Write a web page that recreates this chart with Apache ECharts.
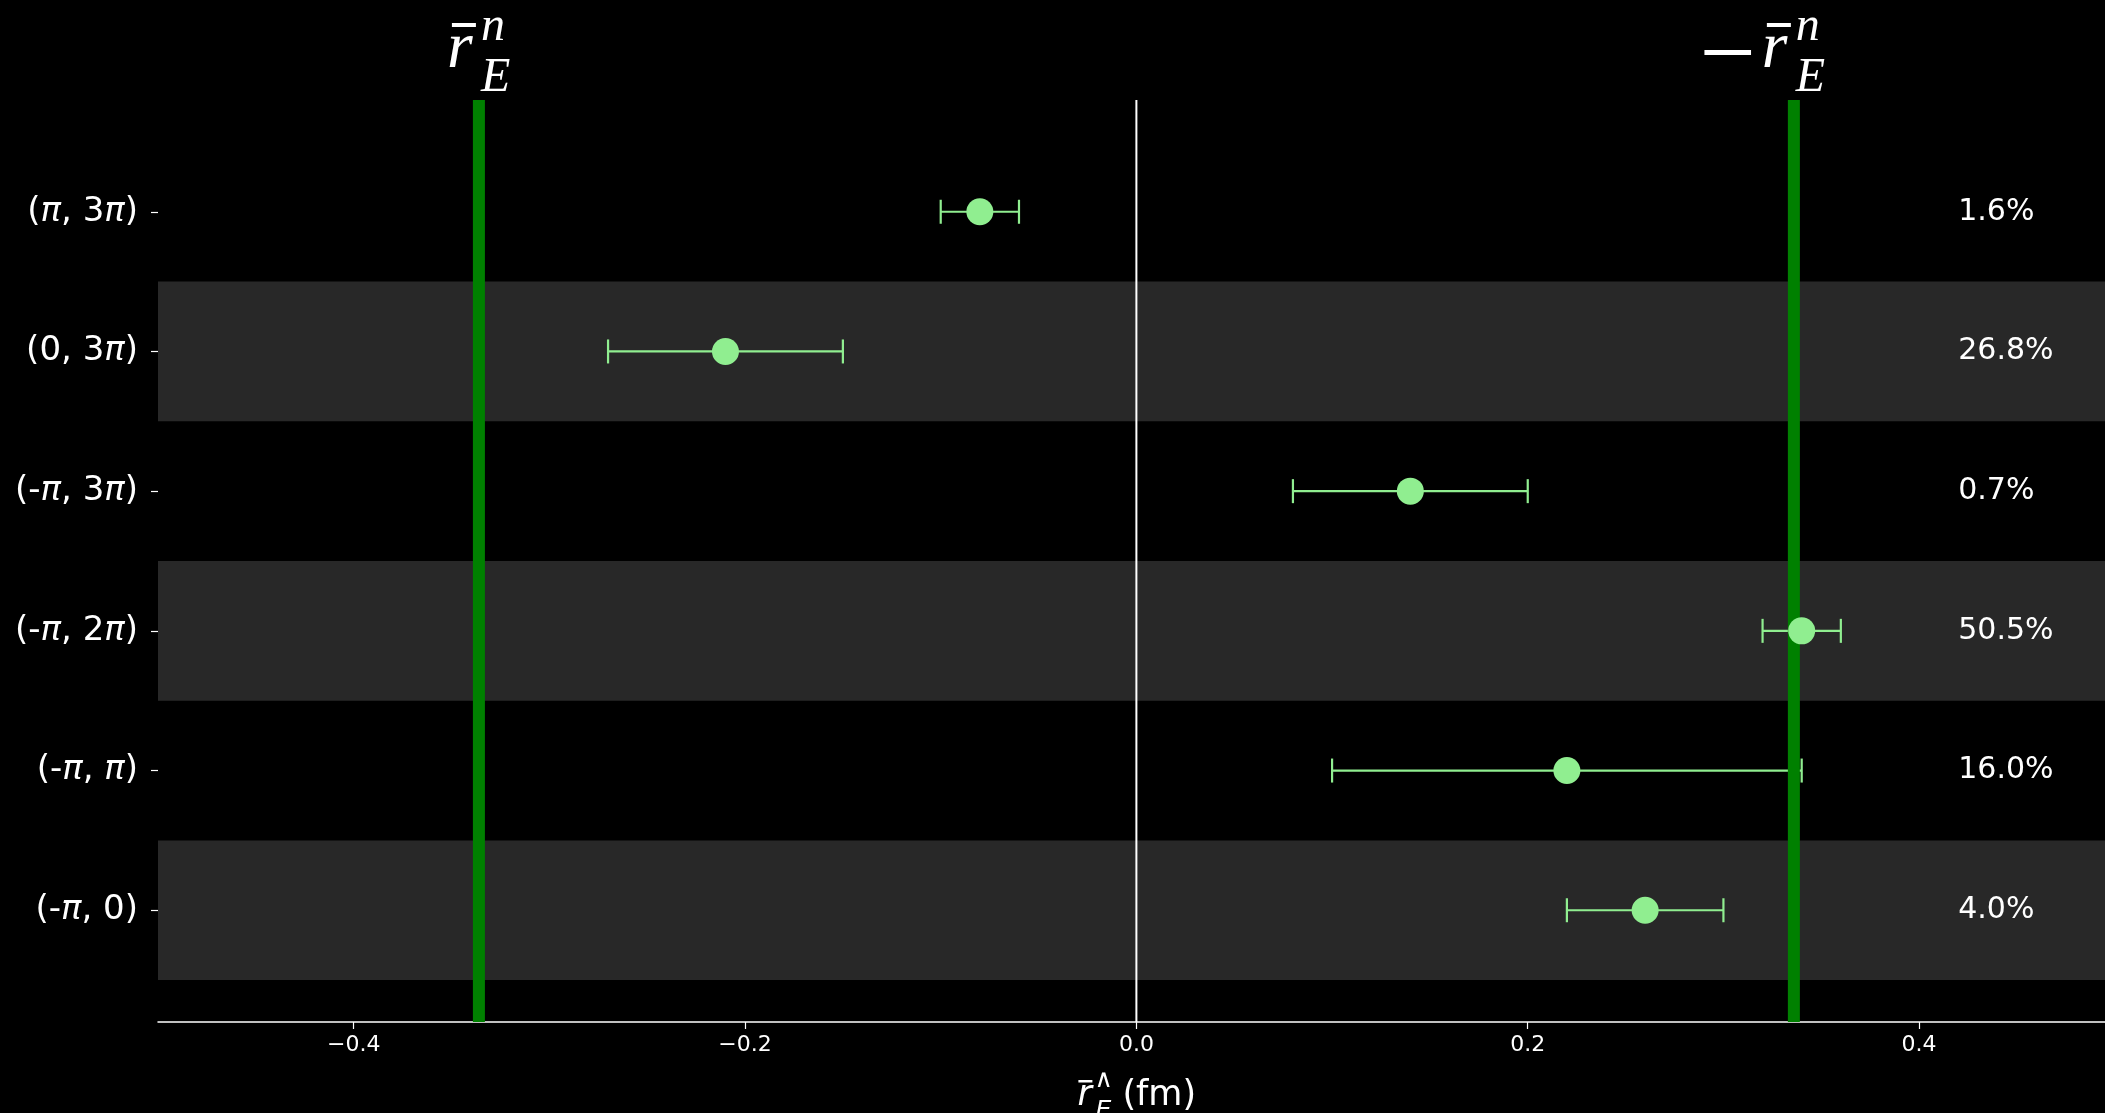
<!DOCTYPE html>
<html>
<head>
<meta charset="utf-8">
<script src="https://cdn.jsdelivr.net/npm/echarts@6/dist/echarts.min.js"></script>
<style>
html,body{margin:0;padding:0;background:#000;}
#chart{width:2105px;height:1113px;}
</style>
</head>
<body>
<div id="chart"></div>
<script>
// Categories listed bottom to top
const categories = ['(-π, 0)', '(-π, π)', '(-π, 2π)', '(-π, 3π)', '(0, 3π)', '(π, 3π)'];
const centers = [0.26, 0.22, 0.34, 0.14, -0.21, -0.08];
const lows    = [0.22, 0.10, 0.32, 0.08, -0.27, -0.10];
const highs   = [0.30, 0.34, 0.36, 0.20, -0.15, -0.06];
const shares  = ['4.0%', '16.0%', '50.5%', '0.7%', '26.8%', '1.6%'];
const refLines = [-0.336, 0.336];
const xTicks = [-0.4, -0.2, 0.0, 0.2, 0.4];
const xMin = -0.5, xMax = 0.495, yMin = -0.8, yMax = 5.8;
const shareX = 0.42;

const chart = echarts.init(document.getElementById('chart'));
const SANS = '"DejaVu Sans"';
const SERIF = '"Liberation Serif", "Times New Roman", Times, serif';
const K = 0.34; // canvas 'middle' offset factor
function mid(baseline, size) { return baseline - K * size; }

const bandIdx = categories.map((c, i) => i).filter(i => i % 2 === 0);

const option = {
  backgroundColor: '#000000',
  animation: false,
  grid: { left: 158, right: 0, top: 100, bottom: 91, containLabel: false },
  xAxis: {
    type: 'value', min: xMin, max: xMax,
    axisLine: { show: true, onZero: false, lineStyle: { color: '#ffffff', width: 1.5 } },
    axisTick: { show: true, length: 7, lineStyle: { color: '#ffffff', width: 1.2 }, customValues: xTicks },
    axisLabel: {
      color: '#ffffff', fontFamily: SANS, fontSize: 22, margin: 12,
      customValues: xTicks,
      formatter: v => (v < -1e-9 ? '\u2212' : '') + Math.abs(v).toFixed(1)
    },
    splitLine: { show: false }
  },
  yAxis: {
    type: 'value', min: yMin, max: yMax,
    axisLine: { show: false, onZero: false },
    axisTick: { show: true, length: 7, lineStyle: { color: '#ffffff', width: 1.2 }, customValues: categories.map((c, i) => i) },
    axisLabel: {
      color: '#ffffff', fontFamily: SANS, fontSize: 34, margin: 20,
      customValues: categories.map((c, i) => i),
      formatter: v => categories[Math.round(v)].replace(/π/g, '{i|π}'),
      rich: { i: { fontStyle: 'italic', fontFamily: SANS, fontSize: 34, color: '#ffffff' } }
    },
    splitLine: { show: false }
  },
  series: [
    { // shaded bands
      type: 'custom', z: 1, silent: true,
      data: bandIdx.map(i => [0, i]),
      renderItem: (params, api) => {
        const i = api.value(1);
        const p0 = api.coord([xMin, i + 0.5]);
        const p1 = api.coord([xMax, i - 0.5]);
        return { type: 'rect', shape: { x: p0[0], y: p0[1], width: p1[0] - p0[0], height: p1[1] - p0[1] },
                 style: { fill: '#282828' } };
      }
    },
    { // zero line
      type: 'custom', z: 2, silent: true,
      data: [[0, 0]],
      renderItem: (params, api) => {
        const a = api.coord([api.value(0), yMax]);
        const b = api.coord([api.value(0), yMin]);
        return { type: 'line', shape: { x1: a[0], y1: a[1], x2: b[0], y2: b[1] },
                 style: { stroke: '#ffffff', lineWidth: 2 } };
      }
    },
    { // error bars
      type: 'custom', z: 3, silent: true,
      data: categories.map((c, i) => [lows[i], i, highs[i]]),
      renderItem: (params, api) => {
        const i = api.value(1);
        const lo = api.coord([api.value(0), i]);
        const hi = api.coord([api.value(2), i]);
        const st = { stroke: '#90EE90', lineWidth: 2.2 };
        const h = 12;
        return { type: 'group', children: [
          { type: 'line', shape: { x1: lo[0], y1: lo[1], x2: hi[0], y2: hi[1] }, style: st },
          { type: 'line', shape: { x1: lo[0], y1: lo[1] - h, x2: lo[0], y2: lo[1] + h }, style: st },
          { type: 'line', shape: { x1: hi[0], y1: hi[1] - h, x2: hi[0], y2: hi[1] + h }, style: st }
        ]};
      }
    },
    { // green reference lines
      type: 'custom', z: 4, silent: true,
      data: refLines.map(x => [x, 0]),
      renderItem: (params, api) => {
        const a = api.coord([api.value(0), yMax]);
        const b = api.coord([api.value(0), yMin]);
        return { type: 'line', shape: { x1: a[0], y1: a[1], x2: b[0], y2: b[1] },
                 style: { stroke: '#008000', lineWidth: 12 } };
      }
    },
    { // points
      type: 'scatter', z: 5, silent: true,
      data: centers.map((v, i) => [v, i]),
      symbol: 'circle', symbolSize: 27,
      itemStyle: { color: '#90EE90', opacity: 1 }
    },
    { // share labels
      type: 'custom', z: 6, silent: true,
      data: shares.map((s, i) => [shareX, i]),
      renderItem: (params, api) => {
        const p = api.coord([api.value(0), api.value(1)]);
        return { type: 'text', style: { text: shares[params.dataIndex], x: p[0], y: p[1],
                 font: '30px ' + SANS, fill: '#ffffff', align: 'left', verticalAlign: 'middle' } };
      }
    },
    { // top labels for reference lines
      type: 'custom', z: 6, silent: true, clip: false,
      data: refLines.map(x => [x, yMax]),
      renderItem: (params, api) => {
        const p = api.coord([api.value(0), api.value(1)]);
        const L = p[0], T = p[1];
        const kids = [];
        if (api.value(0) > 0) {
          kids.push({ type: 'text', style: { text: '\u2212', x: L - 38, y: T - 40, font: '100px ' + SERIF,
                      fill: '#ffffff', align: 'right', verticalAlign: 'middle' } });
        }
        kids.push({ type: 'text', style: { text: 'r', x: L - 32, y: T - 50, font: 'italic 66px ' + SERIF,
                    fill: '#ffffff', align: 'left', verticalAlign: 'middle' } });
        kids.push({ type: 'rect', shape: { x: L - 27, y: T - 77, width: 24, height: 4 }, style: { fill: '#ffffff' } });
        kids.push({ type: 'text', style: { text: 'n', x: L + 2, y: T - 73, font: 'italic 48px ' + SERIF,
                    fill: '#ffffff', align: 'left', verticalAlign: 'middle' } });
        kids.push({ type: 'text', style: { text: 'E', x: L + 2, y: T - 21.4, font: 'italic 48px ' + SERIF,
                    fill: '#ffffff', align: 'left', verticalAlign: 'middle' } });
        return { type: 'group', children: kids };
      }
    },
    { // x-axis title
      type: 'custom', z: 6, silent: true, clip: false,
      data: [[0, yMin]],
      renderItem: (params, api) => {
        const p = api.coord([api.value(0), api.value(1)]);
        const A = p[0], B = p[1] + 3;
        return { type: 'group', children: [
          { type: 'text', style: { text: 'r', x: A - 59, y: mid(B + 83, 35), font: 'italic 35px ' + SANS,
            fill: '#ffffff', align: 'left', verticalAlign: 'middle' } },
          { type: 'rect', shape: { x: A - 58, y: B + 55, width: 14, height: 2.5 }, style: { fill: '#ffffff' } },
          { type: 'text', style: { text: '\u2227', x: A - 42, y: mid(B + 64, 25), font: '25px ' + SANS,
            fill: '#ffffff', align: 'left', verticalAlign: 'middle' } },
          { type: 'text', style: { text: 'E', x: A - 41, y: mid(B + 95, 25), font: 'italic 25px ' + SANS,
            fill: '#ffffff', align: 'left', verticalAlign: 'middle' } },
          { type: 'text', style: { text: '(fm)', x: A - 14, y: mid(B + 83, 35), font: '35px ' + SANS,
            fill: '#ffffff', align: 'left', verticalAlign: 'middle' } }
        ]};
      }
    }
  ]
};
chart.setOption(option);
</script>
</body>
</html>
